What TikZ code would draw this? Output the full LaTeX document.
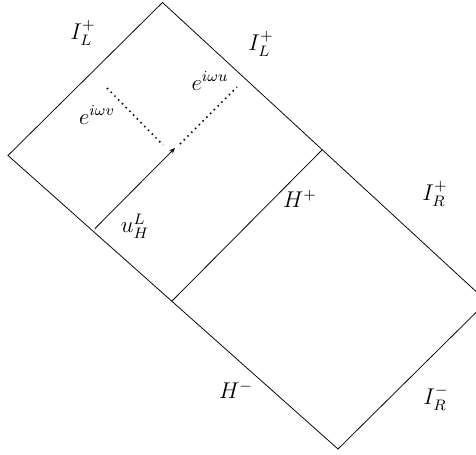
\documentclass[tikz,border=0pt]{standalone}
\usepackage{amsmath}
\usetikzlibrary{arrows.meta}
\usetikzlibrary{positioning}

\begin{document}
\begin{tikzpicture}[x=0.0185cm, y=-0.0185cm, every node/.style={font=\large}]

	\useasboundingbox (0,0) rectangle (476,455);
	\clip (0,0) rectangle (476,455);

	% corners of the diagram
	\coordinate (T) at (162.5,2.5);
	\coordinate (L) at (8,155.5);
	\coordinate (B) at (338,449);
	\coordinate (R) at (487,301.6);
	\draw (T) -- (R) -- (B) -- (L) -- cycle;

	% horizon
	\coordinate (H1) at (172,301);
	\coordinate (H2) at (322,150);
	\draw (H1) -- (H2);

	\coordinate (U1) at (95,228.5);
	\coordinate (U2) at (175,148);
	\draw[-{Stealth[length=3pt,width=2.5pt]}] (U1) -- (U2);

	\coordinate (V1) at (107,88);
	\coordinate (V2) at (163,145);
	\draw[dotted, thick] (V1) -- (V2);

	\coordinate (W1) at (180,144);
	\coordinate (W2) at (237,87);
	\draw[dotted, thick] (W1) -- (W2);

	\node (IL1) at (83,33) {$I_L^+$};
	\node (IL2) at (261,44) {$I_L^+$};
	\node (EU) at (210,81) {$e^{i\omega u}$};
	\node (EV) at (97,115) {$e^{i\omega v}$};
	\node (UH) at (135,226) {$u_H^L$};
	\node (HP) at (300,199) {$H^+$};
	\node (IRP) at (435,194) {$I_R^+$};
	\node (HM) at (236,390) {$H^-$};
	\node (IRM) at (436,398) {$I_R^-$};

\end{tikzpicture}
\end{document}
